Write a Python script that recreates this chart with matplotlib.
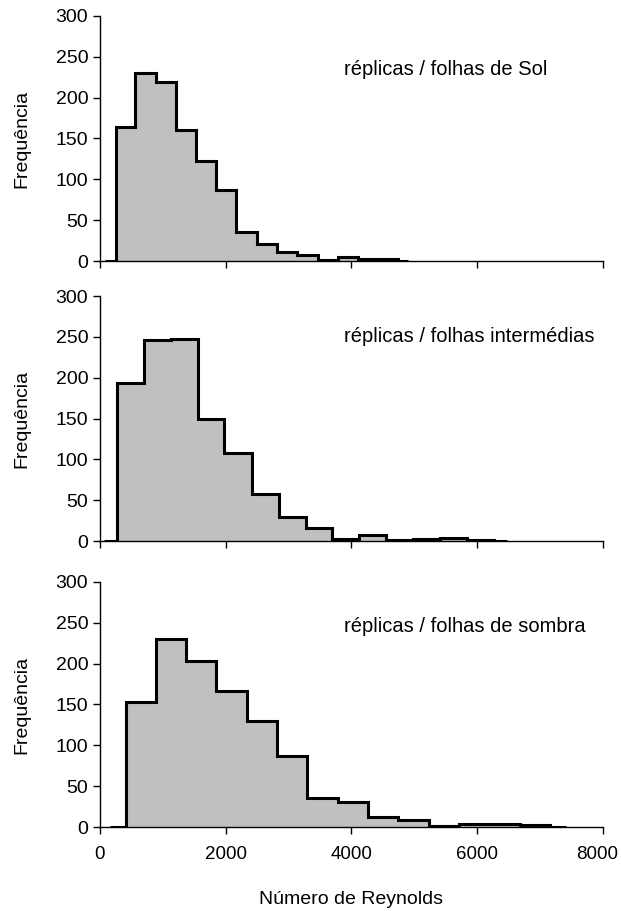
import matplotlib
matplotlib.use('Agg')
import matplotlib.pyplot as plt
from matplotlib.transforms import ScaledTranslation

plt.rcParams['font.family'] = ['Liberation Sans', 'DejaVu Sans']

# bin edges and counts
sunEdges = [80, 254, 562, 885, 1214, 1532, 1850, 2163, 2492, 2809, 3138,
            3461, 3786, 4109, 4427, 4745, 4904]
sunCounts = [0, 164, 230, 219, 160, 122, 87, 36, 21, 11, 7, 1, 5, 3, 2, 0]

midEdges = [60, 276, 700, 1129, 1553, 1978, 2412, 2842, 3271, 3695, 4124,
            4554, 4978, 5408, 5832, 6267, 6478]
midCounts = [0, 193, 246, 248, 150, 108, 58, 30, 16, 3, 7, 1, 3, 4, 2, 0]

shadeEdges = [165, 412, 888, 1364, 1852, 2341, 2817, 3299, 3787, 4263, 4745,
              5227, 5716, 6192, 6674, 7156, 7404]
shadeCounts = [0, 153, 230, 203, 167, 130, 87, 36, 31, 12, 8, 1, 4, 4, 2, 0]

labels = ['réplicas / folhas de Sol',
          'réplicas / folhas intermédias',
          'réplicas / folhas de sombra']

panels = [(sunEdges, sunCounts), (midEdges, midCounts), (shadeEdges, shadeCounts)]
# axes boxes in figure fraction
boxes = [[0.161, 0.7135, 0.810, 0.269],
         [0.161, 0.406, 0.810, 0.269],
         [0.161, 0.0922, 0.810, 0.269]]
labelY = [235, 251, 245]

fig = plt.figure(figsize=(6.21, 9.11), dpi=100)

for i, ((edges, counts), box) in enumerate(zip(panels, boxes)):
    ax = fig.add_axes(box)
    ax.stairs(counts, edges, fill=True, color='#c0c0c0', lw=0)
    ax.stairs(counts, edges, color='black', lw=2.2)
    ax.set_xlim(0, 8000)
    ax.set_ylim(0, 300)
    ax.set_yticks(range(0, 301, 50))
    ax.set_xticks(range(0, 8001, 2000))
    for side in ['top', 'right']:
        ax.spines[side].set_visible(False)
    for side in ['left', 'bottom']:
        ax.spines[side].set_linewidth(1.0)
    ax.tick_params(direction='out', length=5, width=1.0, labelsize=14)
    ax.tick_params(axis='x', pad=9, labelsize=13.5)
    ax.set_ylabel('Frequência', fontsize=14, labelpad=18)
    ax.text(3880, labelY[i], labels[i], fontsize=14.5, va='center')
    if i < 2:
        ax.set_xticklabels([])
    else:
        ax.set_xlabel('Número de Reynolds', fontsize=14, labelpad=20)
        # nudge the last label so it stays inside the canvas
        last = ax.xaxis.get_major_ticks()[-1].label1
        last.set_transform(last.get_transform() +
                           ScaledTranslation(-4 / 72, 0, fig.dpi_scale_trans))

fig.savefig('out.png', dpi=100)
